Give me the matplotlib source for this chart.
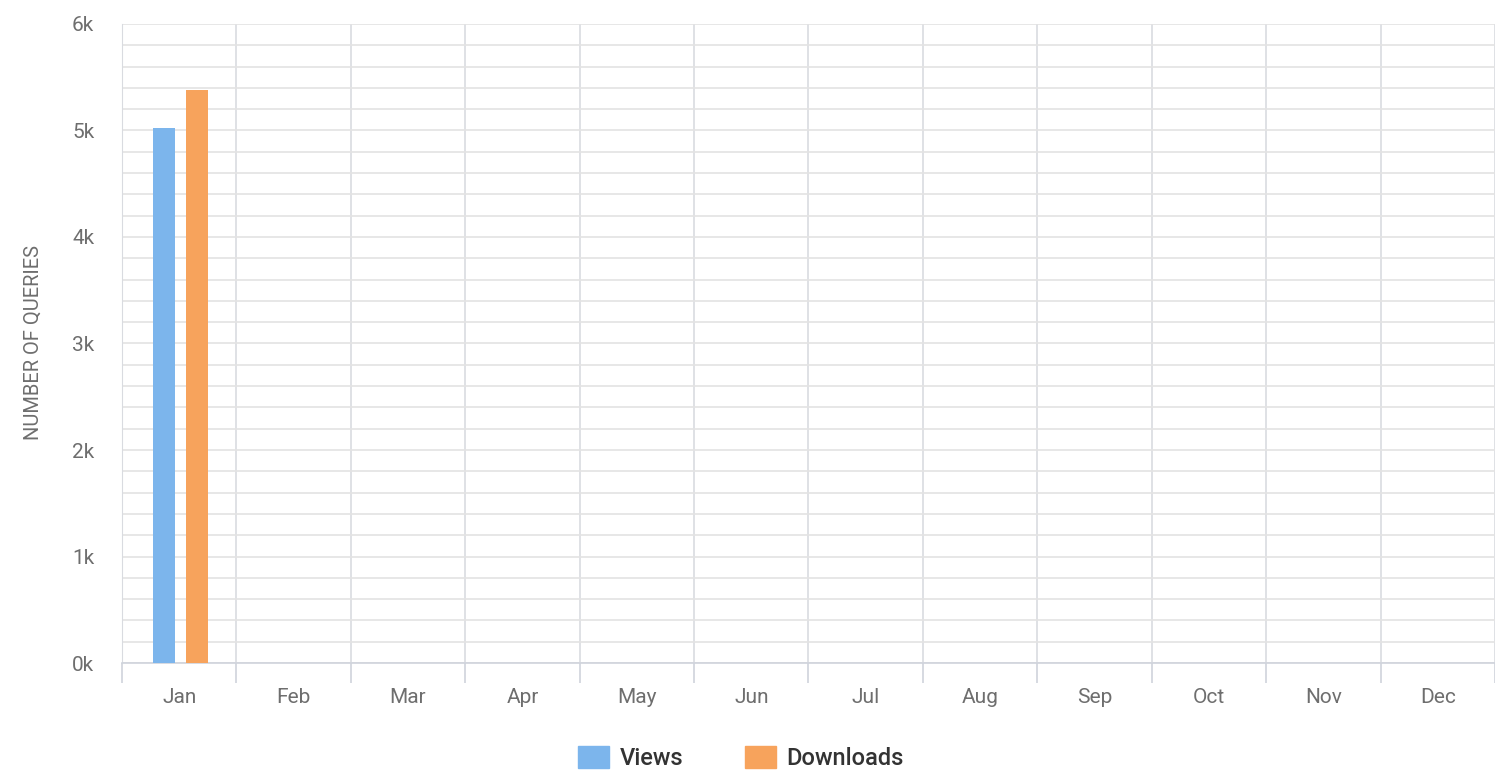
"""Monthly views and downloads bar chart."""

import matplotlib.pyplot as plt
from matplotlib.patches import Patch
from matplotlib.ticker import MultipleLocator, FuncFormatter
import numpy as np

months = ['Jan', 'Feb', 'Mar', 'Apr', 'May', 'Jun',
          'Jul', 'Aug', 'Sep', 'Oct', 'Nov', 'Dec']
views = [5020, 0, 0, 0, 0, 0, 0, 0, 0, 0, 0, 0]
downloads = [5380, 0, 0, 0, 0, 0, 0, 0, 0, 0, 0, 0]
series_names = ['Views', 'Downloads']
series_colors = ['#7cb5ec', '#f7a35c']

plt.rcParams['font.family'] = ['Roboto', 'DejaVu Sans']

fig = plt.figure(figsize=(14.95, 7.71), dpi=100)
ax = fig.add_axes([0.0816, 0.140, 0.9184, 0.829])

x = np.arange(len(months)) + 0.5
bar_w = 0.19
for i, (vals, col) in enumerate(zip([views, downloads], series_colors)):
    vals = np.array(vals)
    mask = vals > 0
    ax.bar(x[mask] + (i - 0.5) * 0.292 + 0.01, vals[mask], width=bar_w,
           color=col, zorder=3)

ax.set_xlim(0, 12)
ax.set_ylim(0, 6000)

# month boundaries as major ticks, labels on minor ticks
ax.set_xticks(np.arange(0, 13))
ax.set_xticklabels([])
ax.set_xticks(x, minor=True)
ax.set_xticklabels(months, minor=True)
ax.tick_params(axis='x', which='major', length=14.5, width=1.2,
               color='#cfd3dc')
ax.tick_params(axis='x', which='minor', length=0, pad=18,
               labelsize=15, labelcolor='#6e6e6e')
ax.grid(axis='x', which='major', color='#d9dbe0', linewidth=1.2, zorder=0)

ax.yaxis.set_major_locator(MultipleLocator(1000))
ax.yaxis.set_minor_locator(MultipleLocator(200))
ax.yaxis.set_major_formatter(FuncFormatter(lambda v, p: f"{int(v / 1000)}k"))
ax.tick_params(axis='y', which='both', length=0, pad=20,
               labelsize=15, labelcolor='#6e6e6e')
ax.grid(axis='y', which='both', color='#e3e3e3', linewidth=1.2, zorder=0)

for side in ['top', 'right']:
    ax.spines[side].set_visible(False)
ax.spines['left'].set_color('#d9dbe0')
ax.spines['bottom'].set_color('#cfd3dc')
ax.spines['bottom'].set_linewidth(1.2)

fig.text(33 / 1495, 1 - 343 / 771, 'NUMBER OF QUERIES', rotation=90,
         ha='center', va='center', fontsize=14.5, color='#6e6e6e')

handles = [Patch(color=c, label=n) for n, c in zip(series_names, series_colors)]
fig.legend(handles=handles, loc='center', bbox_to_anchor=(741 / 1495, 1 - 758 / 771),
           ncol=2, frameon=False, handlelength=1.3,
           handleheight=1.1, columnspacing=2.6, handletextpad=0.45,
           labelcolor='#333333', prop={'weight': 'medium', 'size': 17})

fig.savefig('out.png', dpi=100)
